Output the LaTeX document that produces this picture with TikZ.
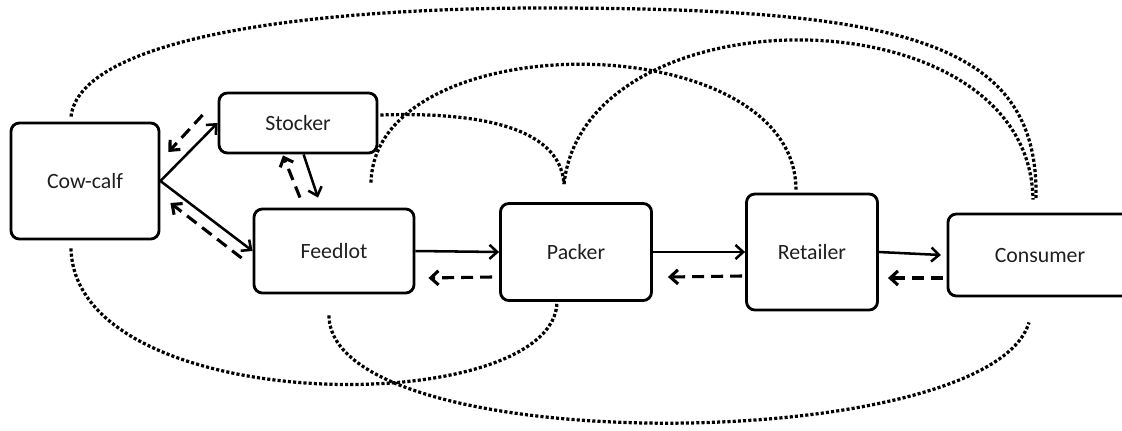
\documentclass[tikz,border=0pt]{standalone}
\usepackage{fontspec}
\setmainfont{Carlito}
\usetikzlibrary{arrows.meta}
\tikzstyle{stage} = [rectangle, draw=black, line width=2pt, rounded corners=6pt, text centered, font=\fontsize{15.5}{18}\selectfont, text=black!88]

\begin{document}
\begin{tikzpicture}[x=0.025cm,y=-0.025cm]
\tikzstyle{fwd} = [-{Straight Barb[length=5.5pt,width=10pt]}, line width=1.8pt]
\tikzstyle{bwd} = [fwd, line width=2.2pt, dash pattern=on 8.5pt off 5pt]
\tikzstyle{tie} = [line width=2.3pt, dash pattern=on 2.2pt off 1.5pt]
\useasboundingbox (0,0) rectangle (1122,430);

% supply chain stages
\node[stage, minimum width=3.7cm, minimum height=2.9cm] (cow) at (85,181) {Cow-calf};
\node[stage, minimum width=3.95cm, minimum height=1.5cm] (stock) at (298,123) {Stocker};
\node[stage, minimum width=4cm, minimum height=2.1cm] (feed) at (334,251) {Feedlot};
\node[stage, minimum width=3.775cm, minimum height=2.425cm] (pack) at (576,252) {Packer};
\node[stage, minimum width=3.275cm, minimum height=2.9cm] (ret) at (812,252) {Retailer};
\node[stage, minimum width=4.6cm, minimum height=2.05cm] (cons) at (1040,255) {Consumer};

% product flow
\draw[fwd] (cow.east) -- (stock.west);
\draw[fwd] (cow.east) -- (feed.west);
\draw[fwd] ([xshift=4]stock.south) -- ([shift={(-16,-10)}]feed.north);
\draw[fwd] (feed.east) -- (pack.west);
\draw[fwd] (pack.east) -- (ret.west);
\draw[fwd] (ret.east) -- ([xshift=-4]cons.west);

% information flow
\draw[bwd] ([shift={(-15,-8)}]stock.west) -- ([shift={(8,-29)}]cow.east);
\draw[bwd] ([shift={(-11,7)}]feed.west) -- ([shift={(10,22)}]cow.east);
\draw[bwd] ([shift={(-34,-10)}]feed.north) -- ([shift={(-15,1)}]stock.south);
\draw[bwd] ([shift={(-7,25)}]pack.west) -- ([shift={(13,27)}]feed.east);
\draw[bwd] ([shift={(-3,24)}]ret.west) -- ([shift={(15,25)}]pack.east);
\draw[bwd] ([shift={(-4,23)}]cons.west) -- ([shift={(9,26)}]ret.east);

% links across stages
\draw[tie] ([shift={(-14,-5)}]cow.north) .. controls +(9,-77) and (300,8) .. (543,8)
  .. controls (900,8) and +(4,-160) .. ([shift={(-4,-13)}]cons.north);
\draw[tie] ([shift={(2,-8)}]stock.east) .. controls +(90,-3) and +(-4,-60) .. ([shift={(-12,-18)}]pack.north);
\draw[tie] ([shift={(37,-25)}]feed.north) .. controls +(4,-160) and +(-1,-165) .. ([shift={(-16,-3)}]ret.north);
\draw[tie] ([shift={(-12,-18)}]pack.north) .. controls +(21,-195) and +(-3,-210) .. ([shift={(-7,-13)}]cons.north);
\draw[tie] ([shift={(-14,8)}]cow.south) .. controls +(4,172) and +(3,120) .. ([shift={(-19,-2)}]pack.south);
\draw[tie] ([shift={(-5,21)}]feed.south) .. controls +(1,145) and +(-39,133) .. ([shift={(-11,25)}]cons.south);
\end{tikzpicture}
\end{document}
